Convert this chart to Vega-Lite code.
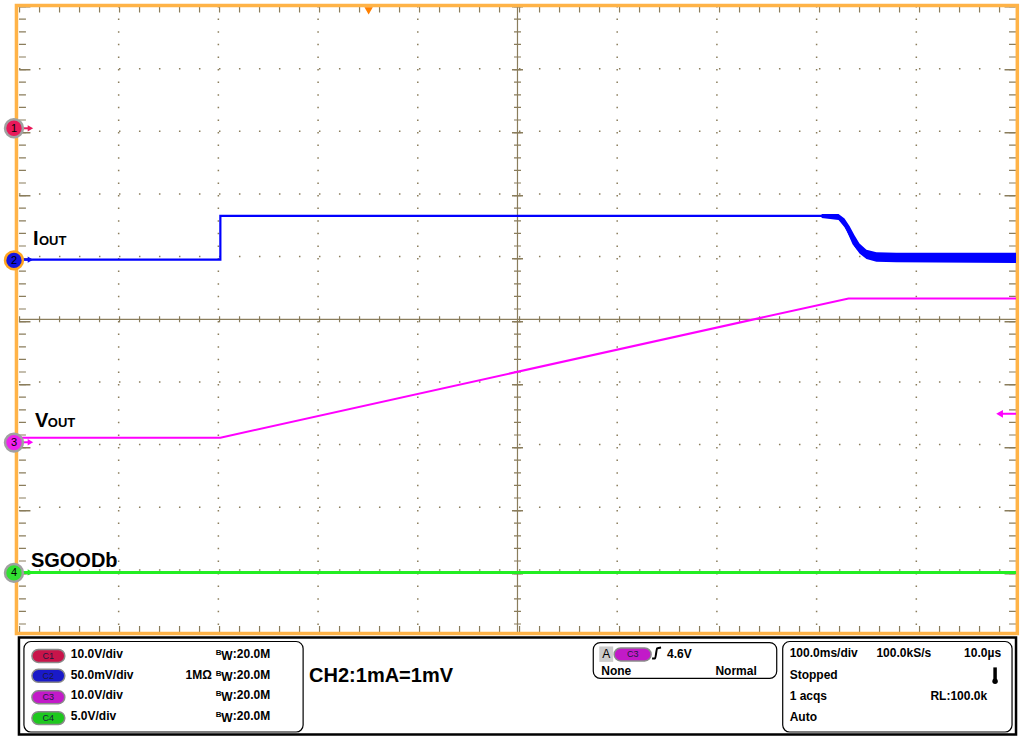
{
  "$schema": "https://vega.github.io/schema/vega-lite/v6.json",
  "width": 1024,
  "height": 736,
  "padding": 0,
  "autosize": {"type": "fit", "contains": "padding"},
  "background": "#ffffff",
  "config": {"view": {"stroke": null}, "text": {"font": "Liberation Sans"}},
  "datasets": {
    "frame": [{"t": -2.5, "t2": 1001.3, "v": 5.008, "v2": -5.016}],
    "gridV": [
      {"t": 100, "v": 5, "v2": -5}, {"t": 200, "v": 5, "v2": -5}, {"t": 300, "v": 5, "v2": -5}, {"t": 400, "v": 5, "v2": -5},
      {"t": 600, "v": 5, "v2": -5}, {"t": 700, "v": 5, "v2": -5}, {"t": 800, "v": 5, "v2": -5}, {"t": 900, "v": 5, "v2": -5}
    ],
    "gridH": [
      {"v": 4, "t": 0, "t2": 1000}, {"v": 3, "t": 0, "t2": 1000}, {"v": 2, "t": 0, "t2": 1000}, {"v": 1, "t": 0, "t2": 1000},
      {"v": -1, "t": 0, "t2": 1000}, {"v": -2, "t": 0, "t2": 1000}, {"v": -3, "t": 0, "t2": 1000}, {"v": -4, "t": 0, "t2": 1000}
    ],
    "vlines": [{"t": 500, "v": 5, "v2": -5}],
    "hlines": [{"v": 0, "t": 0, "t2": 1000}],
    "hticks": [{"v": 4.944, "t": 0, "t2": 1000}, {"v": -4.944, "t": 0, "t2": 1000}, {"v": 0, "t": 0, "t2": 1000}],
    "vticks": [{"t": 3.5, "v": 5, "v2": -5}, {"t": 500, "v": 5, "v2": -5}, {"t": 996.5, "v": 5, "v2": -5}],
    "vmajor": [{"t": 6, "v": 5, "v2": -5}, {"t": 500, "v": 5, "v2": -5}, {"t": 994, "v": 5, "v2": -5}],
    "iout": [
      {"i": 0, "t": 0, "v": 0.952}, {"i": 1, "t": 202, "v": 0.952}, {"i": 2, "t": 202, "v": 1.651},
      {"i": 3, "t": 809, "v": 1.651}, {"i": 4, "t": 816, "v": 1.643}, {"i": 5, "t": 822, "v": 1.619},
      {"i": 6, "t": 827, "v": 1.54}, {"i": 7, "t": 831, "v": 1.429}, {"i": 8, "t": 834, "v": 1.317},
      {"i": 9, "t": 837, "v": 1.206}, {"i": 10, "t": 841, "v": 1.127}, {"i": 11, "t": 846, "v": 1.063},
      {"i": 12, "t": 854, "v": 1.016}, {"i": 13, "t": 864, "v": 0.992}, {"i": 14, "t": 1000, "v": 0.984}
    ],
    "iband": [
      {"t": 805, "v": 1.68, "v2": 1.615}, {"t": 822, "v": 1.68, "v2": 1.585}, {"t": 828, "v": 1.61, "v2": 1.47},
      {"t": 833, "v": 1.49, "v2": 1.32}, {"t": 838, "v": 1.34, "v2": 1.16}, {"t": 843, "v": 1.21, "v2": 1.05},
      {"t": 850, "v": 1.11, "v2": 0.96}, {"t": 860, "v": 1.07, "v2": 0.92}, {"t": 880, "v": 1.06, "v2": 0.91},
      {"t": 1000, "v": 1.06, "v2": 0.9}
    ],
    "vout": [{"i": 0, "t": 0, "v": -1.889}, {"i": 1, "t": 202, "v": -1.889}, {"i": 2, "t": 832, "v": 0.333}, {"i": 3, "t": 1000, "v": 0.333}],
    "sgood": [{"i": 0, "t": 0, "v": -4.04}, {"i": 1, "t": 1000, "v": -4.04}],
    "markers": [
      {"ch": "1", "t": -5, "v": 3.048}, {"ch": "2", "t": -5, "v": 0.94},
      {"ch": "3", "t": -5, "v": -1.968}, {"ch": "4", "t": -5, "v": -4.048}
    ],
    "arrows": [
      {"ch": "1", "t": 4, "t2": 11, "v": 3.048}, {"ch": "2", "t": 4, "t2": 11, "v": 0.952},
      {"ch": "3", "t": 4, "t2": 11, "v": -1.963}, {"ch": "4", "t": 4, "t2": 11, "v": -4.04}
    ],
    "heads": [
      {"ch": "1", "t": 11.5, "v": 3.048}, {"ch": "2", "t": 11.5, "v": 0.952},
      {"ch": "3", "t": 11.5, "v": -1.963}, {"ch": "4", "t": 11.5, "v": -4.04}
    ],
    "trigmark": [{"t": 983.5, "t2": 1000, "v": -1.508}],
    "trigpos": [{"t": 350.7, "v": 4.921}],
    "bigLabels": [
      {"label": "I", "t": 14, "v": 1.19}, {"label": "V", "t": 16, "v": -1.714}, {"label": "SGOODb", "t": 12, "v": -3.952}
    ],
    "subLabels": [{"label": "OUT", "t": 20, "v": 1.19}, {"label": "OUT", "t": 29, "v": -1.714}],
    "statusFrame": [{"t": 0, "t2": 1000, "v": -5.079, "v2": -6.627}],
    "boxes": [
      {"t": 5, "t2": 285, "v": -5.143, "v2": -6.587},
      {"t": 576, "t2": 760, "v": -5.159, "v2": -5.73},
      {"t": 766, "t2": 996, "v": -5.143, "v2": -6.587}
    ],
    "pills": [
      {"ch": "1", "t": 13, "t2": 46, "v": -5.27, "v2": -5.476},
      {"ch": "2", "t": 13, "t2": 46, "v": -5.587, "v2": -5.794},
      {"ch": "3", "t": 13, "t2": 46, "v": -5.929, "v2": -6.135},
      {"ch": "4", "t": 13, "t2": 46, "v": -6.262, "v2": -6.468},
      {"ch": "3", "t": 597, "t2": 634, "v": -5.246, "v2": -5.452}
    ],
    "pillLabels": [
      {"label": "C1", "t": 29.5, "v": -5.373}, {"label": "C2", "t": 29.5, "v": -5.69},
      {"label": "C3", "t": 29.5, "v": -6.032}, {"label": "C4", "t": 29.5, "v": -6.365},
      {"label": "C3", "t": 615.5, "v": -5.349}
    ],
    "statusLeft": [
      {"label": "10.0V/div", "t": 52, "v": -5.413}, {"label": "50.0mV/div", "t": 52, "v": -5.746},
      {"label": "10.0V/div", "t": 52, "v": -6.063}, {"label": "5.0V/div", "t": 52, "v": -6.397},
      {"label": "W", "t": 203, "v": -5.444}, {"label": "W", "t": 203, "v": -5.778},
      {"label": "W", "t": 203, "v": -6.095}, {"label": "W", "t": 203, "v": -6.429},
      {"label": ":20.0M", "t": 214.5, "v": -5.413}, {"label": ":20.0M", "t": 214.5, "v": -5.746},
      {"label": ":20.0M", "t": 214.5, "v": -6.063}, {"label": ":20.0M", "t": 214.5, "v": -6.397},
      {"label": "1MΩ", "t": 167, "v": -5.746},
      {"label": "4.6V", "t": 650, "v": -5.413}, {"label": "None", "t": 584, "v": -5.683},
      {"label": "100.0ms/div", "t": 773, "v": -5.397}, {"label": "100.0kS/s", "t": 860, "v": -5.397},
      {"label": "Stopped", "t": 773, "v": -5.746}, {"label": "1 acqs", "t": 773, "v": -6.079},
      {"label": "Auto", "t": 773, "v": -6.413}
    ],
    "statusRight": [
      {"label": "Normal", "t": 740, "v": -5.683}, {"label": "10.0µs", "t": 985, "v": -5.397},
      {"label": "RL:100.0k", "t": 971, "v": -6.079}
    ],
    "bSup": [
      {"label": "B", "t": 197.5, "v": -5.365}, {"label": "B", "t": 197.5, "v": -5.698},
      {"label": "B", "t": 197.5, "v": -6.016}, {"label": "B", "t": 197.5, "v": -6.349}
    ],
    "note": [{"label": "CH2:1mA=1mV", "t": 291, "v": -5.794}],
    "aBox": [{"t": 582, "t2": 596, "v": -5.222, "v2": -5.468}],
    "aLabel": [{"label": "A", "t": 589, "v": -5.413}],
    "edge": [{"i": 0, "t": 635, "v": -5.413}, {"i": 1, "t": 638, "v": -5.413}, {"i": 2, "t": 640, "v": -5.254}, {"i": 3, "t": 644, "v": -5.238}],
    "thermo": [{"t": 979, "v": -5.556, "v2": -5.762}],
    "bulb": [{"t": 979, "v": -5.778}]
  },
  "encoding": {
    "x": {"field": "t", "type": "quantitative", "scale": {"domain": [-16, 1008], "nice": false, "zero": false}, "axis": null},
    "y": {"field": "v", "type": "quantitative", "scale": {"domain": [-6.6508, 5.0317], "nice": false, "zero": false}, "axis": null}
  },
  "layer": [
    {"data": {"name": "gridV"}, "mark": {"type": "rule", "color": "#8a7d5c", "strokeWidth": 1.5, "strokeDash": [1.5, 11.1]}, "encoding": {"y2": {"field": "v2"}}},
    {"data": {"name": "gridH"}, "mark": {"type": "rule", "color": "#8a7d5c", "strokeWidth": 1.5, "strokeDash": [1.5, 18.5]}, "encoding": {"x2": {"field": "t2"}}},
    {"data": {"name": "vlines"}, "mark": {"type": "rule", "color": "#8a7d5c", "strokeWidth": 1.2}, "encoding": {"y2": {"field": "v2"}}},
    {"data": {"name": "hlines"}, "mark": {"type": "rule", "color": "#8a7d5c", "strokeWidth": 1.2}, "encoding": {"x2": {"field": "t2"}}},
    {"data": {"name": "hticks"}, "mark": {"type": "rule", "color": "#8a7d5c", "strokeWidth": 6, "strokeDash": [1.2, 18.8]}, "encoding": {"x2": {"field": "t2"}}},
    {"data": {"name": "vticks"}, "mark": {"type": "rule", "color": "#8a7d5c", "strokeWidth": 7, "strokeDash": [1.2, 11.4]}, "encoding": {"y2": {"field": "v2"}}},
    {"data": {"name": "vmajor"}, "mark": {"type": "rule", "color": "#8a7d5c", "strokeWidth": 11, "strokeDash": [1.4, 61.6]}, "encoding": {"y2": {"field": "v2"}}},
    {"data": {"name": "frame"}, "mark": {"type": "rect", "filled": false, "stroke": "#ffb347", "strokeWidth": 3.5}, "encoding": {"x2": {"field": "t2"}, "y2": {"field": "v2"}}},
    {"data": {"name": "sgood"}, "mark": {"type": "line", "color": "#22ee22", "strokeWidth": 3}, "encoding": {"order": {"field": "i"}}},
    {"data": {"name": "vout"}, "mark": {"type": "line", "color": "#ff00ff", "strokeWidth": 2}, "encoding": {"order": {"field": "i"}}},
    {"data": {"name": "iband"}, "mark": {"type": "area", "color": "#0000ff", "opacity": 1}, "encoding": {"y2": {"field": "v2"}}},
    {"data": {"name": "iout"}, "mark": {"type": "line", "color": "#0000ff", "strokeWidth": 2.2}, "encoding": {"order": {"field": "i"}}},
    {"data": {"name": "trigmark"}, "mark": {"type": "rule", "color": "#ff00ff", "strokeWidth": 2}, "encoding": {"x2": {"field": "t2"}}},
    {"data": {"name": "trigmark"}, "mark": {"type": "point", "shape": "triangle-left", "filled": true, "color": "#ff00ff", "size": 60, "opacity": 1}},
    {"data": {"name": "trigpos"}, "mark": {"type": "point", "shape": "triangle-down", "filled": true, "color": "#ff8000", "size": 70, "opacity": 1}},
    {"data": {"name": "arrows"}, "mark": {"type": "rule", "strokeWidth": 2}, "encoding": {"x2": {"field": "t2"}, "color": {"field": "ch", "type": "nominal", "scale": {"domain": ["1", "2", "3", "4"], "range": ["#e8195a", "#1010f0", "#ff00ff", "#22ee22"]}, "legend": null}}},
    {"data": {"name": "heads"}, "mark": {"type": "point", "shape": "triangle-right", "filled": true, "size": 40, "opacity": 1}, "encoding": {"color": {"field": "ch", "type": "nominal", "scale": {"domain": ["1", "2", "3", "4"], "range": ["#e8195a", "#1010f0", "#ff00ff", "#22ee22"]}, "legend": null}}},
    {"data": {"name": "markers"}, "mark": {"type": "point", "shape": "circle", "filled": true, "size": 320, "strokeWidth": 2.5, "opacity": 1}, "encoding": {
      "color": {"field": "ch", "type": "nominal", "scale": {"domain": ["1", "2", "3", "4"], "range": ["#e8195a", "#1515e0", "#ee22ee", "#33e033"]}, "legend": null},
      "stroke": {"field": "ch", "type": "nominal", "scale": {"domain": ["1", "2", "3", "4"], "range": ["#a0a0a0", "#ffa520", "#a0a0a0", "#a0a0a0"]}, "legend": null}}},
    {"data": {"name": "markers"}, "mark": {"type": "text", "fontSize": 11, "align": "center", "baseline": "middle", "color": "#000000", "dy": 0.5}, "encoding": {"text": {"field": "ch"}}},
    {"data": {"name": "bigLabels"}, "mark": {"type": "text", "fontSize": 20, "fontWeight": "bold", "align": "left", "baseline": "alphabetic", "color": "#000000"}, "encoding": {"text": {"field": "label"}}},
    {"data": {"name": "subLabels"}, "mark": {"type": "text", "fontSize": 13, "fontWeight": "bold", "align": "left", "baseline": "alphabetic", "color": "#000000"}, "encoding": {"text": {"field": "label"}}},
    {"data": {"name": "statusFrame"}, "mark": {"type": "rect", "filled": false, "stroke": "#000000", "strokeWidth": 2.5}, "encoding": {"x2": {"field": "t2"}, "y2": {"field": "v2"}}},
    {"data": {"name": "boxes"}, "mark": {"type": "rect", "filled": false, "stroke": "#000000", "strokeWidth": 1.2, "cornerRadius": 7}, "encoding": {"x2": {"field": "t2"}, "y2": {"field": "v2"}}},
    {"data": {"name": "aBox"}, "mark": {"type": "rect", "color": "#cccccc"}, "encoding": {"x2": {"field": "t2"}, "y2": {"field": "v2"}}},
    {"data": {"name": "pills"}, "mark": {"type": "rect", "cornerRadius": 6.5, "stroke": "#8a8a8a", "strokeWidth": 1.5}, "encoding": {"x2": {"field": "t2"}, "y2": {"field": "v2"},
      "color": {"field": "ch", "type": "nominal", "scale": {"domain": ["1", "2", "3", "4"], "range": ["#c8144a", "#1a1ac8", "#c21ac8", "#1ec81e"]}, "legend": null}}},
    {"data": {"name": "pillLabels"}, "mark": {"type": "text", "fontSize": 9, "align": "center", "baseline": "middle", "color": "#1a1a40"}, "encoding": {"text": {"field": "label"}}},
    {"data": {"name": "statusLeft"}, "mark": {"type": "text", "fontSize": 12, "fontWeight": "bold", "align": "left", "baseline": "alphabetic", "color": "#000000"}, "encoding": {"text": {"field": "label"}}},
    {"data": {"name": "statusRight"}, "mark": {"type": "text", "fontSize": 12, "fontWeight": "bold", "align": "right", "baseline": "alphabetic", "color": "#000000"}, "encoding": {"text": {"field": "label"}}},
    {"data": {"name": "bSup"}, "mark": {"type": "text", "fontSize": 8, "fontWeight": "bold", "align": "left", "baseline": "alphabetic", "color": "#000000"}, "encoding": {"text": {"field": "label"}}},
    {"data": {"name": "note"}, "mark": {"type": "text", "fontSize": 20, "fontWeight": "bold", "align": "left", "baseline": "alphabetic", "color": "#000000"}, "encoding": {"text": {"field": "label"}}},
    {"data": {"name": "aLabel"}, "mark": {"type": "text", "fontSize": 12, "align": "center", "baseline": "alphabetic", "color": "#000000"}, "encoding": {"text": {"field": "label"}}},
    {"data": {"name": "edge"}, "mark": {"type": "line", "color": "#000000", "strokeWidth": 2, "interpolate": "monotone"}, "encoding": {"order": {"field": "i"}}},
    {"data": {"name": "thermo"}, "mark": {"type": "rule", "color": "#000000", "strokeWidth": 3.5}, "encoding": {"y2": {"field": "v2"}}},
    {"data": {"name": "bulb"}, "mark": {"type": "point", "shape": "circle", "filled": true, "color": "#000000", "size": 30, "opacity": 1}}
  ],
  "resolve": {"scale": {"color": "independent", "stroke": "independent"}}
}
